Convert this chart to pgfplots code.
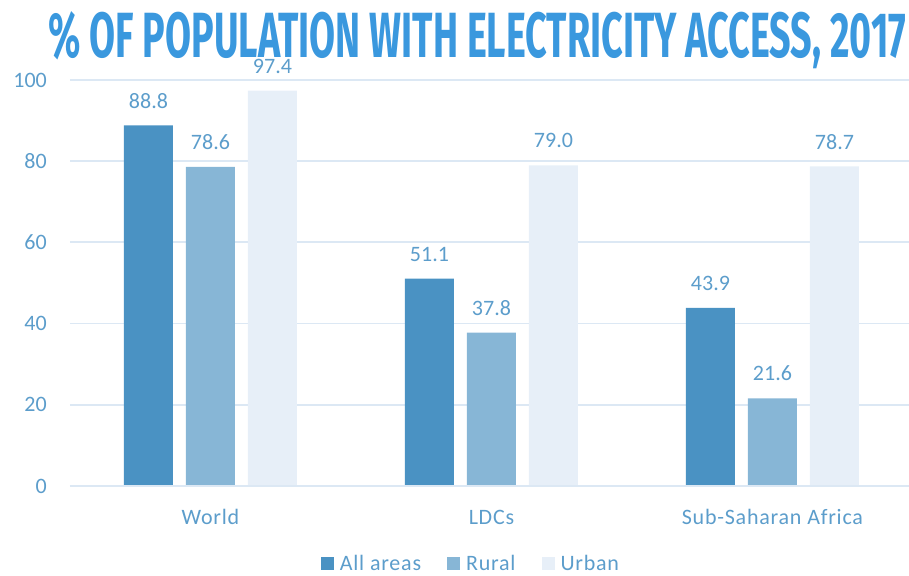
\documentclass[border=0pt]{standalone}
\usepackage{fontspec}
\setmainfont{Carlito}
\newfontfamily\titlefont{Fira Sans}
\newfontfamily\labelfont[LetterSpace=3.5]{Carlito}
\usepackage{pgfplots}
\pgfplotsset{compat=1.18}
\usepackage{graphicx}

\definecolor{allc}{HTML}{4A92C3}
\definecolor{ruralc}{HTML}{87B6D6}
\definecolor{urbanc}{HTML}{E7EFF8}
\definecolor{gridc}{HTML}{DCE8F4}
\definecolor{txtc}{HTML}{5C9DCB}
\definecolor{titlec}{HTML}{3A98DE}

\begin{document}
\begin{tikzpicture}
\path[use as bounding box] (-70pt,-89pt) rectangle (839pt,486pt);
\begin{axis}[
  at={(0pt,0pt)}, anchor=south west,
  scale only axis,
  width=839pt, height=406pt,
  xmin=-0.5, xmax=2.486,
  ymin=0, ymax=100,
  ytick={0,20,40,60,80,100},
  xtick={0,1,2},
  xticklabels={World, LDCs, Sub-Saharan Africa},
  axis line style={draw=none},
  major tick length=0pt,
  ymajorgrids,
  grid style={gridc, line width=1.8pt},
  font=\fontsize{22}{26}\selectfont,
  tick label style={text=txtc, font=\fontsize{22}{26}\selectfont},
  /pgf/number format/assume math mode=true,
  yticklabel style={anchor=east, inner sep=0pt, xshift=-23pt},
  xticklabel style={anchor=base, inner sep=0pt, yshift=-38pt,
    font=\labelfont\fontsize{22}{26}\selectfont},
  ybar, bar width=49pt,
  nodes near coords,
  nodes near coords style={text=txtc, font=\fontsize{22}{26}\selectfont,
    anchor=south, inner sep=0pt, yshift=17pt,
    /pgf/number format/.cd, fixed, fixed zerofill, precision=1, assume math mode=true},
  legend style={draw=none, fill=none, at={(0.4803,-0.192)}, anchor=center,
    legend columns=-1, font=\labelfont\fontsize{22}{26}\selectfont, text=txtc,
    /tikz/every even column/.append style={column sep=20pt},
    nodes={inner xsep=6pt, inner ysep=0pt},
    inner sep=0pt},
  legend image code/.code={\fill[#1] (0pt,-6.5pt) rectangle (13pt,6.5pt);},
]
\addplot[fill=allc, draw=none, bar shift=-62pt] coordinates {(0,88.8) (1,51.1) (2,43.9)};
\addplot[fill=ruralc, draw=none, bar shift=0pt] coordinates {(0,78.6) (1,37.8) (2,21.6)};
\addplot[fill=urbanc, draw=none, bar shift=62pt] coordinates {(0,97.4) (1,79.0) (2,78.7)};
\draw[gridc, line width=1.8pt] (axis cs:-0.5,0) -- (axis cs:2.486,0);
\legend{All areas, Rural, Urban}
\end{axis}
\node[anchor=base west, inner sep=0pt, text=titlec] at (-22pt,428pt)
  {\resizebox{858pt}{46pt}{\titlefont\bfseries \% OF POPULATION WITH ELECTRICITY ACCESS, 2017}};
\end{tikzpicture}
\end{document}
